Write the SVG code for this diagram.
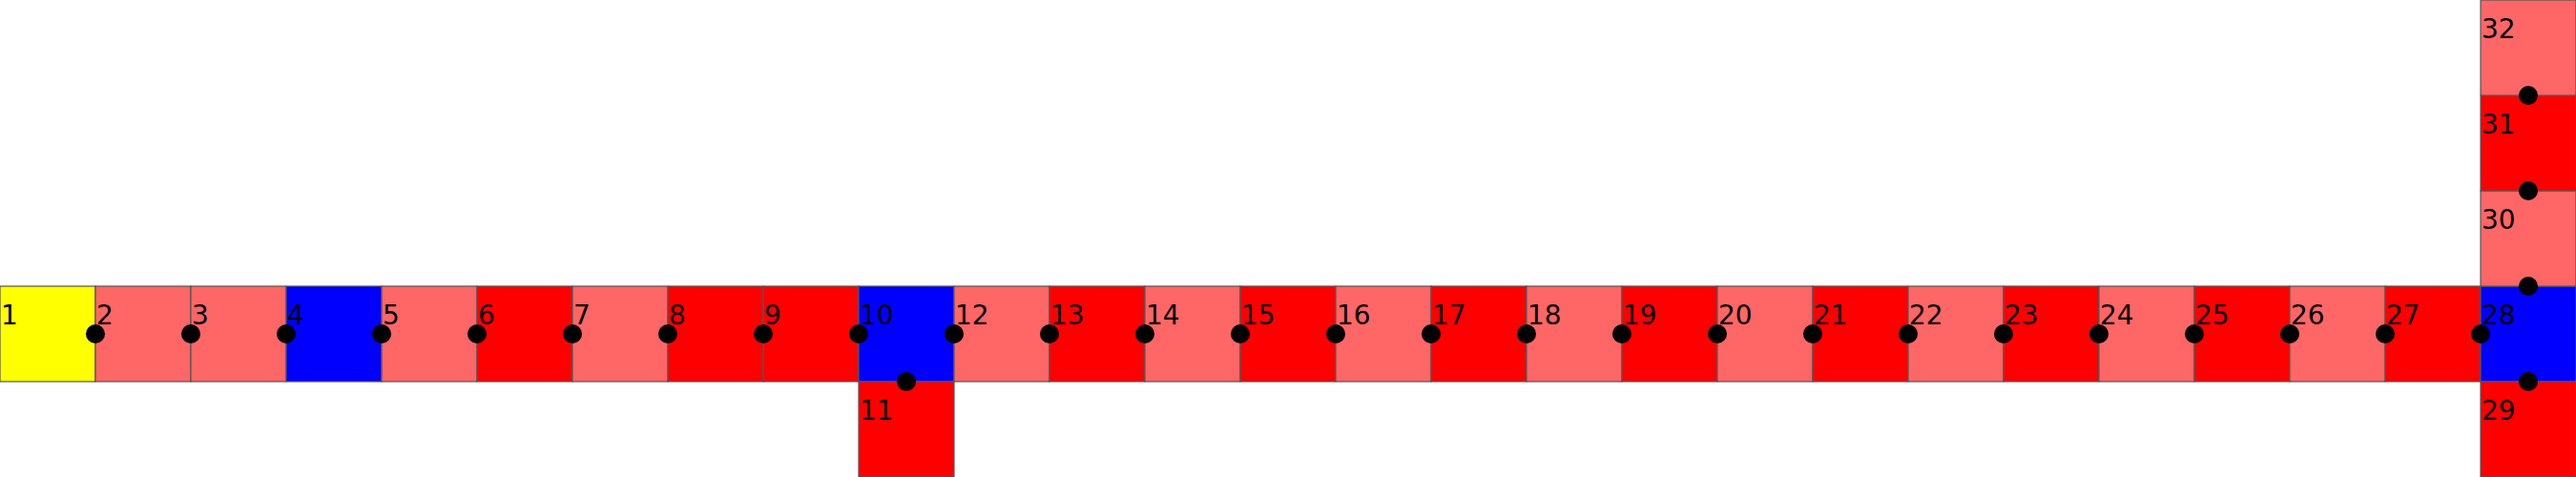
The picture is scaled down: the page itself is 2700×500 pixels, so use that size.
<svg xmlns="http://www.w3.org/2000/svg" width="2700" height="500" viewBox="0 0 2700 500">
<style>
rect{stroke:#555;stroke-width:1.2}
.y{fill:#ffff00}.s{fill:#ff6666}.r{fill:#ff0000}.b{fill:#0000ff}
text{font-family:"DejaVu Sans",sans-serif;font-size:28px;fill:#000}
circle{fill:#000}
</style>
<rect width="2700" height="500" fill="#fff" style="stroke:none"/>
<g id="n1"><rect class="y" x="0" y="300" width="100" height="100"/><text x="1" y="340">1</text></g>
<g id="n2"><rect class="s" x="100" y="300" width="100" height="100"/><text x="101" y="340">2</text></g>
<g id="n3"><rect class="s" x="200" y="300" width="100" height="100"/><text x="201" y="340">3</text></g>
<g id="n4"><rect class="b" x="300" y="300" width="100" height="100"/><text x="301" y="340">4</text></g>
<g id="n5"><rect class="s" x="400" y="300" width="100" height="100"/><text x="401" y="340">5</text></g>
<g id="n6"><rect class="r" x="500" y="300" width="100" height="100"/><text x="501" y="340">6</text></g>
<g id="n7"><rect class="s" x="600" y="300" width="100" height="100"/><text x="601" y="340">7</text></g>
<g id="n8"><rect class="r" x="700" y="300" width="100" height="100"/><text x="701" y="340">8</text></g>
<g id="n9"><rect class="r" x="800" y="300" width="100" height="100"/><text x="801" y="340">9</text></g>
<g id="n10"><rect class="b" x="900" y="300" width="100" height="100"/><text x="901" y="340">10</text></g>
<g id="n11"><rect class="r" x="900" y="400" width="100" height="100"/><text x="901" y="440">11</text></g>
<g id="n12"><rect class="s" x="1000" y="300" width="100" height="100"/><text x="1001" y="340">12</text></g>
<g id="n13"><rect class="r" x="1100" y="300" width="100" height="100"/><text x="1101" y="340">13</text></g>
<g id="n14"><rect class="s" x="1200" y="300" width="100" height="100"/><text x="1201" y="340">14</text></g>
<g id="n15"><rect class="r" x="1300" y="300" width="100" height="100"/><text x="1301" y="340">15</text></g>
<g id="n16"><rect class="s" x="1400" y="300" width="100" height="100"/><text x="1401" y="340">16</text></g>
<g id="n17"><rect class="r" x="1500" y="300" width="100" height="100"/><text x="1501" y="340">17</text></g>
<g id="n18"><rect class="s" x="1600" y="300" width="100" height="100"/><text x="1601" y="340">18</text></g>
<g id="n19"><rect class="r" x="1700" y="300" width="100" height="100"/><text x="1701" y="340">19</text></g>
<g id="n20"><rect class="s" x="1800" y="300" width="100" height="100"/><text x="1801" y="340">20</text></g>
<g id="n21"><rect class="r" x="1900" y="300" width="100" height="100"/><text x="1901" y="340">21</text></g>
<g id="n22"><rect class="s" x="2000" y="300" width="100" height="100"/><text x="2001" y="340">22</text></g>
<g id="n23"><rect class="r" x="2100" y="300" width="100" height="100"/><text x="2101" y="340">23</text></g>
<g id="n24"><rect class="s" x="2200" y="300" width="100" height="100"/><text x="2201" y="340">24</text></g>
<g id="n25"><rect class="r" x="2300" y="300" width="100" height="100"/><text x="2301" y="340">25</text></g>
<g id="n26"><rect class="s" x="2400" y="300" width="100" height="100"/><text x="2401" y="340">26</text></g>
<g id="n27"><rect class="r" x="2500" y="300" width="100" height="100"/><text x="2501" y="340">27</text></g>
<g id="n28"><rect class="b" x="2600" y="300" width="100" height="100"/><text x="2601" y="340">28</text></g>
<g id="n29"><rect class="r" x="2600" y="400" width="100" height="100"/><text x="2601" y="440">29</text></g>
<g id="n30"><rect class="s" x="2600" y="200" width="100" height="100"/><text x="2601" y="240">30</text></g>
<g id="n31"><rect class="r" x="2600" y="100" width="100" height="100"/><text x="2601" y="140">31</text></g>
<g id="n32"><rect class="s" x="2600" y="0" width="100" height="100"/><text x="2601" y="40">32</text></g>
<g id="connectors">
<circle cx="100" cy="350" r="10"/><circle cx="200" cy="350" r="10"/><circle cx="300" cy="350" r="10"/>
<circle cx="400" cy="350" r="10"/><circle cx="500" cy="350" r="10"/><circle cx="600" cy="350" r="10"/>
<circle cx="700" cy="350" r="10"/><circle cx="800" cy="350" r="10"/><circle cx="900" cy="350" r="10"/>
<circle cx="950" cy="400" r="10"/><circle cx="1000" cy="350" r="10"/><circle cx="1100" cy="350" r="10"/>
<circle cx="1200" cy="350" r="10"/><circle cx="1300" cy="350" r="10"/><circle cx="1400" cy="350" r="10"/>
<circle cx="1500" cy="350" r="10"/><circle cx="1600" cy="350" r="10"/><circle cx="1700" cy="350" r="10"/>
<circle cx="1800" cy="350" r="10"/><circle cx="1900" cy="350" r="10"/><circle cx="2000" cy="350" r="10"/>
<circle cx="2100" cy="350" r="10"/><circle cx="2200" cy="350" r="10"/><circle cx="2300" cy="350" r="10"/>
<circle cx="2400" cy="350" r="10"/><circle cx="2500" cy="350" r="10"/><circle cx="2600" cy="350" r="10"/>
<circle cx="2650" cy="400" r="10"/><circle cx="2650" cy="300" r="10"/><circle cx="2650" cy="200" r="10"/>
<circle cx="2650" cy="100" r="10"/>
</g>
</svg>
